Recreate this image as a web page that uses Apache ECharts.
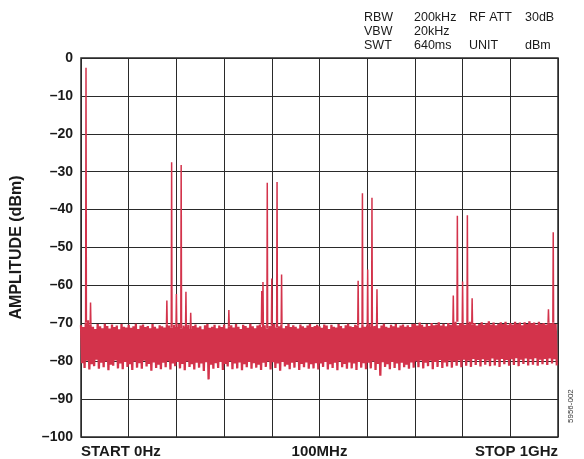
<!DOCTYPE html>
<html>
<head>
<meta charset="utf-8">
<script src="https://cdn.jsdelivr.net/npm/echarts@6/dist/echarts.min.js"></script>
<style>html,body{margin:0;padding:0;background:#fff;}#c{width:584px;height:459px;}</style>
</head>
<body>
<div id="c"></div>
<script>
// ---- data ----
var freqMin = 0, freqMax = 1000, freqStep = 100;          // MHz
var ampMin = -100, ampMax = 0, ampStep = 10;               // dBm
var xTickLabels = { 0: 'START 0Hz', 500: '100MHz', 1000: 'STOP 1GHz' };
var headerRows = [
  ['RBW', '200kHz', 'RF ATT', '30dB'],
  ['VBW', '20kHz', '', ''],
  ['SWT', '640ms', 'UNIT', 'dBm']
];
var figureId = '5956-002';
var yTitle = 'AMPLITUDE (dBm)';

// spurs / tones (MHz, dBm)
var spikeFreq  = [10.5, 20, 180, 190, 200, 210, 220, 230, 310, 379, 381.5, 390.5, 400, 411, 420.5, 581, 590, 601, 610, 620.5, 780.5, 789, 800, 810, 820, 980, 990];
var spikeLevel = [-2.6, -64.5, -64, -27.5, -62.3, -28.2, -61.7, -67.2, -66.5, -61.5, -59.1, -32.9, -58.2, -32.7, -57.1, -58.8, -35.7, -55.8, -36.9, -61, -62.7, -41.6, -59, -41.5, -63.4, -66.3, -46];

// noise floor sweep: upper and lower excursions, 200 sweep cells (5 MHz each)
var noiseTop = [
  -70.5,-71,-69.8,-69.2,-70.4,-70.9,-71.5,-70.2,-70.8,-71.3,-70.1,-70.7,-71.4,-70.3,-71,-70.6,-71.6,-70.2,-70.9,-71.1,
  -70.4,-71.2,-70.8,-70.1,-71.5,-70.6,-70.3,-71,-70.7,-71.3,-70.2,-70.9,-71.4,-70.5,-70.8,-71.1,-70.3,-70.6,-71.2,-70.4,
  -70.9,-70.2,-71.3,-70.6,-71,-70.4,-71.5,-70.7,-70.3,-71.1,-70.8,-71.6,-70.5,-70.2,-71.2,-70.9,-70.4,-71.3,-70.6,-71,
  -70.3,-71.4,-70.8,-70.5,-71.1,-70.2,-70.9,-71.5,-70.4,-70.7,-71.2,-70.1,-70.8,-71.3,-70.6,-70.3,-71,-70.5,-71.4,-70.7,
  -70.6,-70.2,-71.1,-70.8,-70.4,-71.3,-70.7,-70.1,-71,-70.5,-70.9,-71.4,-70.3,-70.8,-71.2,-70.6,-70.2,-71,-70.7,-70.4,
  -70.8,-71.2,-70.3,-70.6,-71.5,-70.4,-70.9,-71.1,-70.2,-70.7,-71.3,-70.5,-70.1,-70.8,-71,-70.4,-70.6,-71.2,-70.3,-70.9,
  -70.5,-70.2,-71,-70.7,-70.4,-71.3,-70.6,-70.1,-70.9,-71.2,-70.4,-70.8,-70.2,-71.1,-70.6,-70.3,-70.9,-70.5,-71,-70.2,
  -70.1,-70.6,-69.8,-70.4,-70.9,-70.2,-70.7,-69.9,-70.5,-70.3,-69.7,-70.6,-70.1,-70.8,-69.9,-70.4,-70.2,-69.6,-70.5,-70,
  -69.8,-70.4,-70.1,-69.6,-70.3,-69.9,-70.6,-70.2,-69.7,-70.4,-70,-69.5,-70.3,-69.8,-70.5,-70.1,-69.7,-70.2,-69.6,-70.4,
  -69.9,-70.3,-69.6,-70.1,-69.8,-70.5,-69.7,-70.2,-69.5,-70,-69.8,-70.4,-69.6,-70.1,-69.9,-70.3,-69.7,-70,-69.8,-70.2
];
var noiseBottom = [
  -80.5,-81.8,-79.9,-82.2,-80.8,-81.3,-79.6,-82,-80.4,-81.6,-80.1,-82.4,-80.9,-81.2,-79.8,-81.9,-80.6,-82.1,-80.2,-81.5,
  -80.8,-82.3,-80.1,-81.7,-80.5,-82,-79.9,-81.4,-80.7,-82.5,-80.3,-81.8,-80.9,-82.1,-80.4,-81.6,-80,-82.2,-80.6,-81.3,
  -80.2,-81.9,-80.7,-82.4,-80.1,-81.5,-80.8,-82.2,-80.4,-81.7,-80.6,-82.6,-80.3,-84.8,-80.9,-82,-80.5,-81.8,-80.2,-82.3,
  -80.7,-81.4,-80.1,-82.1,-80.6,-81.9,-80.3,-82.4,-80.8,-81.6,-80.2,-82,-80.5,-81.7,-80.9,-82.3,-80.4,-81.5,-80.1,-82.2,
  -80.3,-81.8,-80.6,-82.5,-80.2,-81.4,-80.9,-82.1,-80.4,-81.7,-80.1,-82.3,-80.7,-81.6,-80.3,-82,-80.8,-81.9,-80.5,-82.2,
  -80.6,-81.5,-80.2,-82.2,-80.8,-81.8,-80.4,-82.4,-80.1,-81.6,-80.7,-82,-80.3,-81.9,-80.6,-82.3,-80.2,-81.7,-80.5,-82.1,
  -80.4,-81.9,-80.1,-82.3,-80.7,-83.8,-80.3,-81.5,-80.8,-82.1,-80.2,-81.8,-80.6,-82.4,-80.4,-81.6,-80.9,-82,-80.3,-81.7,
  -80.1,-81.6,-79.8,-81.9,-80.4,-81.3,-79.9,-82.1,-80.2,-81.5,-79.7,-81.8,-80.3,-81.4,-79.9,-81.7,-80.1,-81.2,-79.8,-81.6,
  -79.6,-81.2,-79.9,-81.5,-79.4,-81,-79.7,-81.4,-79.5,-80.9,-79.8,-81.3,-79.3,-81.1,-79.6,-81.5,-79.4,-80.8,-79.7,-81.2,
  -79.5,-81,-79.2,-81.3,-79.6,-80.7,-79.3,-81.1,-79.5,-80.9,-79.2,-81.2,-79.6,-80.8,-79.4,-81,-79.3,-80.6,-79.5,-81.1
];

// ---- build series data from the arrays ----
var cell = (freqMax - freqMin) / noiseTop.length;
var noiseData = [];
for (var i = 0; i < noiseTop.length; i++) {
  noiseData.push([freqMin + i * cell, noiseTop[i]]);
  noiseData.push([freqMin + (i + 0.5) * cell, noiseBottom[i]]);
}
var spikeData = [];
for (var k = 0; k < spikeFreq.length; k++) {
  var base = noiseTop[Math.min(noiseTop.length - 1, Math.floor(spikeFreq[k] / cell))];
  spikeData.push([spikeFreq[k] - 0.8, base]);
  spikeData.push([spikeFreq[k], spikeLevel[k]]);
  spikeData.push([spikeFreq[k] + 0.8, base]);
  spikeData.push([spikeFreq[k] + 0.8, '-']);
}

var FONT = '"Liberation Sans", Arial, Helvetica, sans-serif';
var RED = '#d3334b';
var INK = '#1a1a1a';

var chart = echarts.init(document.getElementById('c'), null, { renderer: 'canvas' });

var headerX = [364, 414, 469, 525];
var headerY = [18, 32, 46];
var graphics = [];
headerRows.forEach(function (row, r) {
  row.forEach(function (txt, c) {
    if (!txt) return;
    graphics.push({
      type: 'text', x: headerX[c], y: headerY[r],
      style: { text: txt, font: '12.5px ' + FONT, fill: INK, textAlign: 'left', textVerticalAlign: 'middle' }
    });
  });
});
graphics.push({
  type: 'text', x: 571, y: 423, rotation: Math.PI / 2,
  style: { text: figureId, font: '8px ' + FONT, fill: '#333', textAlign: 'left', textVerticalAlign: 'middle' }
});

chart.setOption({
  animation: false,
  backgroundColor: '#fff',
  grid: { left: 81, top: 58, width: 477, height: 382, show: true, borderColor: '#2a2a2a', borderWidth: 1.5, backgroundColor: 'transparent' },
  xAxis: {
    type: 'value', min: freqMin, max: freqMax, interval: freqStep,
    axisLine: { show: false }, axisTick: { show: false },
    splitLine: { show: true, lineStyle: { color: '#2a2a2a', width: 1 } },
    axisLabel: {
      show: true, margin: 7, color: INK, fontFamily: FONT, fontSize: 15, fontWeight: 'bold',
      alignMinLabel: 'left', alignMaxLabel: 'right',
      showMinLabel: true, showMaxLabel: true,
      formatter: function (v) { return xTickLabels[v] || ''; }
    }
  },
  yAxis: {
    type: 'value', min: ampMin, max: ampMax, interval: ampStep,
    name: yTitle, nameLocation: 'middle', nameGap: 56, nameRotate: 90,
    nameTextStyle: { color: INK, fontFamily: FONT, fontSize: 16, fontWeight: 'bold' },
    axisLine: { show: false }, axisTick: { show: false },
    splitLine: { show: true, lineStyle: { color: '#2a2a2a', width: 1 } },
    axisLabel: {
      margin: 8, color: INK, fontFamily: FONT, fontSize: 14, fontWeight: 'bold',
      padding: [4, 0, 0, 0],
      formatter: function (v) { return String(v).replace('-', '\u2013'); }
    }
  },
  graphic: graphics,
  series: [
    {
      type: 'line', data: noiseData, showSymbol: false, symbol: 'none',
      lineStyle: { color: RED, width: 2.3 }, clip: true, z: 3
    },
    {
      type: 'line', data: spikeData, showSymbol: false, symbol: 'none', connectNulls: false,
      lineStyle: { color: RED, width: 1.5 }, clip: true, z: 4
    }
  ]
});
</script>
</body>
</html>
